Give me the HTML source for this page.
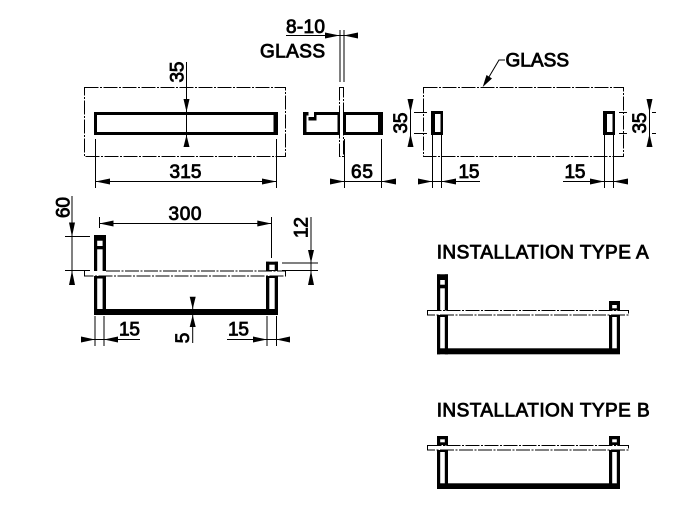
<!DOCTYPE html>
<html><head><meta charset="utf-8"><style>
html,body{margin:0;padding:0;background:#fff;width:698px;height:518px;overflow:hidden}
svg{display:block}
text{font-family:"Liberation Sans",Arial,sans-serif;font-size:19px;fill:#000;stroke:#000;stroke-width:.85}
.t{stroke:#000;stroke-width:1;fill:none}
.g{stroke:#000;stroke-width:1;fill:none;stroke-dasharray:14 1.5 2 1.5}
.gw{stroke:#000;stroke-width:1;fill:#fff;stroke-dasharray:14 1.5 2 1.5}
</style></head><body>
<svg width="698" height="518" viewBox="0 0 698 518" xmlns="http://www.w3.org/2000/svg">
<rect width="698" height="518" fill="#fff"/>

<!-- front view -->
<rect class="g" x="84.5" y="87.5" width="201" height="69"/>
<path d="M94 112V135H278V112ZM97 115H273.5V132H97Z" fill="#000" fill-rule="evenodd"/>
<path class="t" d="M186.5 62V147M95.5 139V188M276.5 139V188M96 181.5H276"/>
<polygon points="186.5,112 183.5,99 189.5,99"/><polygon points="186.5,135 183.5,147 189.5,147"/>
<polygon points="95.5,181.5 110,178.5 110,184.5"/><polygon points="276.5,181.5 262,178.5 262,184.5"/>
<text x="185.5" y="178" text-anchor="middle" textLength="32">315</text>
<text transform="translate(183.5,72) rotate(-90)" text-anchor="middle" textLength="21">35</text>

<!-- side view -->
<path d="M303 112V135H340V112H314V117H308.5V112ZM306.5 115.5H308.5V120.5H316.5V115H337.5V132H306.5Z" fill="#000" fill-rule="evenodd"/>
<path d="M343 112V135H383V112ZM346 115H378V132H346Z" fill="#000" fill-rule="evenodd"/>
<rect class="g" x="339.5" y="87.5" width="4" height="69"/>
<path class="t" d="M340 30V82M344 30V82M286 35.5H358M344.5 139V188M381.5 139V188M330 181.5H396"/>
<polygon points="339.7,35.5 325,32.5 325,38.5"/><polygon points="343.7,35.5 358,32.5 358,38.5"/>
<polygon points="344.3,181.5 330,178.5 330,184.5"/><polygon points="381.3,181.5 396,178.5 396,184.5"/>
<text x="286" y="33" textLength="39">8-10</text>
<text x="260" y="57.3" textLength="65">GLASS</text>
<text x="362" y="178" text-anchor="middle" textLength="22">65</text>

<!-- rear view -->
<rect class="g" x="423.5" y="87.5" width="200" height="69"/>
<path d="M431 111V135H443V111ZM435 114H440.5V132H435Z" fill="#000" fill-rule="evenodd"/>
<path d="M603 111V135H615V111ZM607 114H612.5V132H607Z" fill="#000" fill-rule="evenodd"/>
<path class="t" d="M410.5 99V147M414 112.5H427M414 133.5H427M649.5 99V147M619 112.5H627M619 133.5H627M652 112.5H656M652 133.5H656"/>
<polygon points="410.5,112.5 407.5,99 413.5,99"/><polygon points="410.5,133.7 407.5,147 413.5,147"/>
<polygon points="649.5,112.5 646.5,99 652.5,99"/><polygon points="649.5,133.7 646.5,147 652.5,147"/>
<text transform="translate(407,123) rotate(-90)" text-anchor="middle" textLength="21">35</text>
<text transform="translate(646,123) rotate(-90)" text-anchor="middle" textLength="21">35</text>
<path class="t" d="M432.5 135V188M441.5 135V188M418 181.5H480M604.5 135V188M613.5 135V188M563 181.5H628"/>
<polygon points="432.3,181.5 418,178.5 418,184.5"/><polygon points="441.3,181.5 456,178.5 456,184.5"/>
<polygon points="604,181.5 590,178.5 590,184.5"/><polygon points="613.3,181.5 628,178.5 628,184.5"/>
<text x="458.5" y="178" textLength="21">15</text>
<text x="564.5" y="178" textLength="21">15</text>
<text x="505.5" y="66.7" textLength="63.5">GLASS</text>
<path class="t" d="M505 60H499L486 82"/>
<polygon points="482.7,87 486.5,75 492,78.5"/>

<!-- main bracket -->
<g fill="#000">
<rect x="94" y="235" width="12" height="5.7"/>
<rect x="94" y="235" width="3.2" height="80"/>
<rect x="102.6" y="235" width="3.4" height="80"/>
<rect x="94" y="246" width="12" height="3.3"/>
<rect x="94" y="276" width="12" height="2.5"/>
<rect x="94" y="309" width="184" height="6"/>
<rect x="266" y="261.7" width="3.3" height="53.3"/>
<rect x="274.7" y="261.7" width="3.3" height="53.3"/>
<rect x="266" y="261.7" width="12" height="3"/>
<rect x="266" y="270" width="12" height="2.7"/>
<rect x="266" y="276" width="12" height="2"/>
</g>
<rect x="84.5" y="271" width="201" height="5" fill="#fff" stroke="none"/>
<path class="g" d="M84.5 271V276H285.5V271M106 271H285.5"/>
<path class="t" d="M72 196V285M65 236.5H90M65 270.5H90M99.5 217V228M271.5 217V258M99.5 223.5H271.5M311 217V285M282 263H318M282 270.5H318M285.5 270.5V276"/>
<polygon points="72,236.7 69,222.5 75,222.5"/><polygon points="72,270.5 69,285 75,285"/>
<polygon points="99.3,223.5 113.5,220.5 113.5,226.5"/><polygon points="271.3,223.5 257.3,220.5 257.3,226.5"/>
<polygon points="311,263 308,250 314,250"/><polygon points="311,270.5 308,285 314,285"/>
<polygon points="192.7,309 189.7,296.7 195.7,296.7"/><polygon points="192.7,315 189.7,327 195.7,327"/>
<path class="t" d="M192.7 297V343M95 316V346M104 316V346M81 339.5H140M267 316V346M276.5 316V346M227 339.5H290"/>
<polygon points="95,339.5 81,336.5 81,342.5"/><polygon points="104,339.5 118,336.5 118,342.5"/>
<polygon points="267,339.5 253,336.5 253,342.5"/><polygon points="276.3,339.5 290,336.5 290,342.5"/>
<text x="185" y="220" text-anchor="middle" textLength="33">300</text>
<text transform="translate(69.3,207.5) rotate(-90)" text-anchor="middle" textLength="21">60</text>
<text transform="translate(307.3,227.5) rotate(-90)" text-anchor="middle" textLength="21">12</text>
<text transform="translate(189,338) rotate(-90)" text-anchor="middle">5</text>
<text x="119" y="335.7" textLength="21">15</text>
<text x="228" y="335.7" textLength="21">15</text>

<!-- type A -->
<text x="436.7" y="258.3" textLength="212">INSTALLATION TYPE A</text>
<g fill="#000">
<rect x="437" y="274.3" width="11" height="5.7"/>
<rect x="437" y="274.3" width="3.2" height="80"/>
<rect x="444.8" y="274.3" width="3.2" height="80"/>
<rect x="437" y="284.7" width="11" height="3.6"/>
<rect x="437" y="348.3" width="183" height="6"/>
<rect x="609" y="301" width="3.2" height="53"/>
<rect x="616.8" y="301" width="3.2" height="53"/>
<rect x="609" y="301" width="11" height="4"/>
<rect x="609" y="308.3" width="11" height="2"/>
<rect x="609" y="315" width="11" height="2"/>
<rect x="437" y="315" width="11" height="2"/>
</g>
<rect class="gw" x="427.5" y="310.5" width="201" height="4.5"/>

<!-- type B -->
<text x="436.7" y="416.7" textLength="213">INSTALLATION TYPE B</text>
<g fill="#000">
<rect x="437" y="436" width="3.2" height="53"/>
<rect x="444.8" y="436" width="3.2" height="53"/>
<rect x="437" y="436" width="11" height="3.3"/>
<rect x="437" y="442.3" width="11" height="2.7"/>
<rect x="437" y="450" width="11" height="2"/>
<rect x="609" y="436" width="3.2" height="53"/>
<rect x="616.8" y="436" width="3.2" height="53"/>
<rect x="609" y="436" width="11" height="3.3"/>
<rect x="609" y="442.3" width="11" height="2.7"/>
<rect x="609" y="450" width="11" height="2"/>
<rect x="437" y="483.3" width="183" height="5.7"/>
</g>
<rect class="gw" x="427.5" y="445.5" width="201" height="4.5"/>
</svg>
</body></html>
